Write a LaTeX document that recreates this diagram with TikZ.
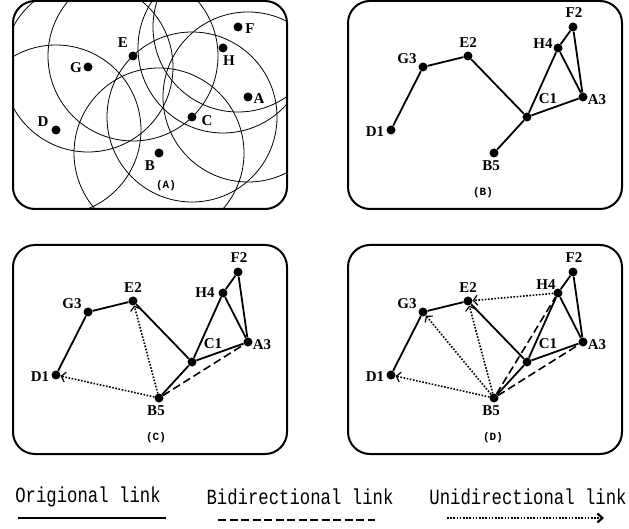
\documentclass[tikz,border=0pt]{standalone}
\usepackage{graphicx}
\usepackage{fontspec}
\setmainfont{Liberation Serif}
\newfontfamily\monof{Liberation Mono}
\usetikzlibrary{arrows.meta}
\tikzset{
  netdot/.style={circle,fill=black,inner sep=0pt,minimum size=9pt},
  lab/.style={font=\fontsize{15}{15}\selectfont\bfseries, inner sep=0pt},
  captext/.style={font=\monof\bfseries\fontsize{11}{11}\selectfont, inner sep=0pt},
  legtext/.style={font=\monof\fontsize{17.3}{18}\selectfont, inner sep=0pt},
  panelbox/.style={draw,line width=2pt,rounded corners=22pt},
  origline/.style={line width=1.8pt},
  bidir/.style={line width=1.6pt, dash pattern=on 8pt off 4pt},
  unidir/.style={line width=1.6pt, dash pattern=on 1.6pt off 1.6pt,
    -{Straight Barb[length=4pt,width=10pt,line width=1.2pt]}},
  legarrow/.style={line width=1.6pt, dash pattern=on 1.6pt off 1.6pt,
    -{Straight Barb[length=5pt,width=9pt,line width=2.2pt]}},
  rangecirc/.style={line width=0.8pt},
}
% #1 prefix, #2 position of the H4 label
\newcommand\netpanel[2]{%
  \node[netdot] (#1F) at (238,27) {};
  \node[netdot] (#1H) at (223,48) {};
  \node[netdot] (#1E) at (133,56) {};
  \node[netdot] (#1G) at (88,67) {};
  \node[netdot] (#1A) at (248,97) {};
  \node[netdot] (#1C) at (192,117) {};
  \node[netdot] (#1D) at (56,130) {};
  \node[netdot] (#1B) at (159,153) {};
  \draw[origline] (#1D) -- (#1G) -- (#1E) -- (#1C) -- (#1B);
  \draw[origline] (#1C) -- (#1H) -- (#1F) -- (#1A) -- (#1C);
  \draw[origline] (#1H) -- (#1A);
  \node[lab] (#1lF) at (239,13) {F2};
  \node[lab] (#1lH) at #2 {H4};
  \node[lab] (#1lE) at (133,43) {E2};
  \node[lab] (#1lG) at (72,59) {G3};
  \node[lab] (#1lA) at (262,100) {A3};
  \node[lab] (#1lC) at (213,99) {C1};
  \node[lab] (#1lD) at (40,132) {D1};
  \node[lab] (#1lB) at (156,166) {B5};
}
\begin{document}
\begin{tikzpicture}[x=1pt,y=-1pt]
\useasboundingbox (0,0) rectangle (629,529);

% ---------- Panel A ----------
\coordinate (pF) at (238,27);
\coordinate (pH) at (223,48);
\coordinate (pE) at (133,56);
\coordinate (pG) at (88,67);
\coordinate (pA) at (248,97);
\coordinate (pC) at (192,117);
\coordinate (pD) at (56,130);
\coordinate (pB) at (159,153);
\begin{scope}
  \clip[rounded corners=22pt] (13,1) rectangle (287,209);
  \foreach \n in {pF,pH,pE,pG,pA,pC,pD,pB}
    \draw[rangecirc] (\n) circle[radius=85];
\end{scope}
\draw[panelbox] (13,1) rectangle (287,209);
\foreach \n in {F,H,E,G,A,C,D,B}
  \node[netdot] (a\n) at (p\n) {};
\node[lab] (alF) at (250,29) {F};
\node[lab] (alH) at (229,61) {H};
\node[lab] (alE) at (123,43) {E};
\node[lab] (alG) at (76,68) {G};
\node[lab] (alA) at (259,99) {A};
\node[lab] (alC) at (207,121) {C};
\node[lab] (alD) at (43,122) {D};
\node[lab] (alB) at (150,166) {B};
\node[captext] (capA) at (166,186) {(A)};

% ---------- Panel B ----------
\draw[panelbox] (348,1) rectangle (622,209);
\begin{scope}[shift={(335,0)}]
  \netpanel{b}{(208,44)}
  \node[captext] (capB) at (148,193) {(B)};
\end{scope}

% ---------- Panel C ----------
\draw[panelbox] (13,245) rectangle (287,454);
\begin{scope}[shift={(0,245)}]
  \netpanel{c}{(205,48)}
  \node[captext] (capC) at (156,193) {(C)};
  \draw[unidir] (cB) -- (cD);
  \draw[unidir] (cB) -- (cE);
  \draw[bidir] (cB) -- (cA);
\end{scope}

% ---------- Panel D ----------
\draw[panelbox] (348,245) rectangle (622,454);
\begin{scope}[shift={(335,245)}]
  \netpanel{d}{(211,40)}
  \node[captext] (capD) at (158,193) {(D)};
  \draw[unidir] (dB) -- (dD);
  \draw[unidir] (dB) -- (dG);
  \draw[unidir] (dB) -- (dE);
  \draw[unidir] (dH) -- (dE);
  \draw[bidir] (dB) -- (dH);
  \draw[bidir] (dB) -- (dA);
\end{scope}

% ---------- Legend ----------
\node[legtext] (t1) at (88,497) {\scalebox{1}[1.25]{Origional link}};
\node[legtext] (t2) at (300,497) {\scalebox{1}[1.25]{Bidirectional link}};
\node[legtext] (t3) at (528,497) {\scalebox{1}[1.25]{Unidirectional link}};
\coordinate (s1) at (18,518);
\coordinate (s2) at (166,518);
\coordinate (d1) at (218,520);
\coordinate (d2) at (375,520);
\coordinate (u1) at (447,518);
\coordinate (u2) at (604,518);
\draw[origline] (s1) -- (s2);
\draw[line width=1.8pt, dash pattern=on 8pt off 3.5pt] (d1) -- (d2);
\draw[legarrow] (u1) -- (u2);
\end{tikzpicture}
\end{document}
